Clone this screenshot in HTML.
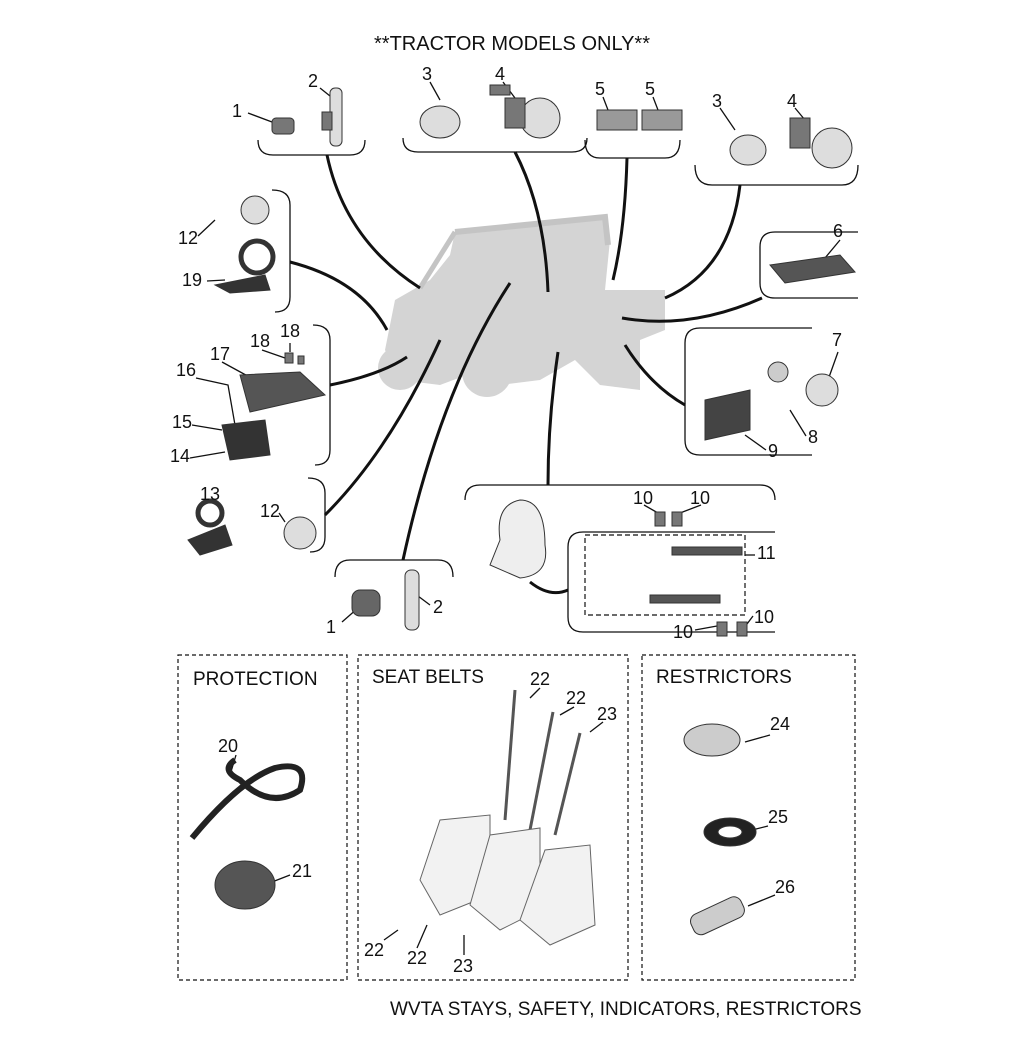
<!DOCTYPE html>
<html><head><meta charset="utf-8"><style>
html,body{margin:0;padding:0;background:#fff}
svg{display:block}
text{font-family:"Liberation Sans",sans-serif;fill:#111}
</style></head><body>
<svg width="1027" height="1040" viewBox="0 0 1027 1040" xmlns="http://www.w3.org/2000/svg">
<text x="512" y="50" font-size="20" text-anchor="middle">**TRACTOR MODELS ONLY**</text>

<!-- vehicle -->
<g fill="#d4d4d4">
<path d="M455 232 L605 217 L610 240 L605 290 L665 290 L665 330 L640 340 L640 390 L600 385 L575 360 L540 380 L500 385 L480 370 L440 385 L400 380 L385 350 L395 300 L430 280 L450 255 Z"/>
<circle cx="400" cy="368" r="22"/><circle cx="487" cy="372" r="25"/><circle cx="618" cy="365" r="22"/>
</g>
<path d="M455 232 L605 217 L608 245" fill="none" stroke="#c4c4c4" stroke-width="6"/>
<path d="M420 288 L455 232" stroke="#c4c4c4" stroke-width="5"/>

<g fill="none" stroke="#111" stroke-width="3">
<path d="M327 155 Q345 240 420 288"/>
<path d="M515 152 Q545 210 548 292"/>
<path d="M627 158 Q625 230 613 280"/>
<path d="M740 185 Q730 270 665 298"/>
<path d="M622 318 Q690 330 762 298"/>
<path d="M625 345 Q650 385 685 405"/>
<path d="M558 352 Q548 420 548 485"/>
<path d="M290 262 Q360 280 387 330"/>
<path d="M330 385 Q380 375 407 357"/>
<path d="M325 515 Q390 450 440 340"/>
<path d="M403 560 Q440 390 510 283"/>
<path d="M530 582 Q550 598 568 590"/>
</g>

<g fill="none" stroke="#111" stroke-width="1.3">
<path d="M258 140 Q258 155 273 155 L350 155 Q365 155 365 140"/>
<path d="M403 138 Q403 152 418 152 L572 152 Q587 152 587 138"/>
<path d="M585 140 Q585 158 600 158 L665 158 Q680 158 680 140"/>
<path d="M695 165 Q695 185 712 185 L842 185 Q858 185 858 165"/>
<path d="M858 232 L775 232 Q760 232 760 247 L760 283 Q760 298 775 298 L858 298"/>
<path d="M812 328 L700 328 Q685 328 685 343 L685 440 Q685 455 700 455 L812 455"/>
<path d="M272 190 Q290 190 290 205 L290 297 Q290 312 275 312"/>
<path d="M313 325 Q330 325 330 340 L330 450 Q330 465 315 465"/>
<path d="M308 478 Q325 478 325 493 L325 537 Q325 552 310 552"/>
<path d="M335 577 Q335 560 350 560 L438 560 Q453 560 453 577"/>
<path d="M465 500 Q465 485 480 485 L760 485 Q775 485 775 500"/>
<path d="M775 532 L583 532 Q568 532 568 547 L568 617 Q568 632 583 632 L775 632"/>
<!-- leader lines -->
<path d="M248 113 L272 122"/><path d="M320 88 L335 100"/>
<path d="M430 82 L440 100"/><path d="M503 82 L515 98"/>
<path d="M603 97 L608 110"/><path d="M653 97 L658 110"/>
<path d="M720 108 L735 130"/><path d="M795 108 L805 120"/>
<path d="M840 240 L825 258"/><path d="M838 352 L828 380"/>
<path d="M806 436 L790 410"/><path d="M766 450 L745 435"/>
<path d="M198 236 L215 220"/><path d="M207 281 L225 280"/>
<path d="M290 343 L290 352"/><path d="M262 350 L285 358"/><path d="M222 362 L255 380"/>
<path d="M196 378 L228 385 L235 425"/><path d="M192 425 L222 430"/><path d="M190 458 L225 452"/>
<path d="M212 502 L210 505"/><path d="M279 513 L285 522"/>
<path d="M342 622 L358 608"/><path d="M430 605 L418 596"/>
<path d="M644 505 L658 513"/><path d="M701 505 L680 513"/><path d="M755 555 L745 555"/>
<path d="M695 630 L717 626"/><path d="M753 616 L747 624"/>
<path d="M236 755 L230 775"/><path d="M290 875 L272 882"/>
<path d="M540 688 L530 698"/><path d="M574 707 L560 715"/><path d="M603 722 L590 732"/>
<path d="M384 940 L398 930"/><path d="M417 948 L427 925"/><path d="M464 955 L464 935"/>
<path d="M770 735 L745 742"/><path d="M768 826 L752 830"/><path d="M775 895 L748 906"/>
</g>
<rect x="585" y="535" width="160" height="80" fill="none" stroke="#111" stroke-width="1.2" stroke-dasharray="5,3"/>

<!-- parts (approx) -->
<g fill="#777" stroke="#333" stroke-width="1">
<rect x="272" y="118" width="22" height="16" rx="4"/>
<rect x="330" y="88" width="12" height="58" rx="5" fill="#ddd"/><rect x="322" y="112" width="10" height="18"/>
<ellipse cx="440" cy="122" rx="20" ry="16" fill="#ddd"/><rect x="490" y="85" width="20" height="10"/>
<circle cx="540" cy="118" r="20" fill="#ddd"/><rect x="505" y="98" width="20" height="30"/>
<rect x="597" y="110" width="40" height="20" fill="#999"/><rect x="642" y="110" width="40" height="20" fill="#999"/>
<ellipse cx="748" cy="150" rx="18" ry="15" fill="#ddd"/><circle cx="832" cy="148" r="20" fill="#ddd"/><rect x="790" y="118" width="20" height="30"/>
<path d="M770 265 L840 255 L855 272 L785 283 Z" fill="#555"/>
<circle cx="822" cy="390" r="16" fill="#ddd"/><circle cx="778" cy="372" r="10" fill="#ccc"/>
<path d="M705 400 L750 390 L750 430 L705 440 Z" fill="#444"/>
<circle cx="255" cy="210" r="14" fill="#ddd"/><circle cx="257" cy="257" r="16" fill="#fff" stroke-width="5"/><path d="M215 285 L265 275 L270 290 L230 293 Z" fill="#333"/>
<path d="M240 375 L300 372 L325 395 L250 412 Z" fill="#555"/>
<path d="M222 425 L265 420 L270 455 L230 460 Z" fill="#333"/>
<rect x="285" y="353" width="8" height="10"/><rect x="298" y="356" width="6" height="8"/>
<circle cx="210" cy="513" r="12" fill="#fff" stroke-width="5"/><path d="M188 540 L225 525 L232 545 L200 555 Z" fill="#333"/>
<circle cx="300" cy="533" r="16" fill="#ddd"/>
<rect x="352" y="590" width="28" height="26" rx="8" fill="#666"/>
<rect x="405" y="570" width="14" height="60" rx="6" fill="#ddd"/>
<path d="M500 540 Q495 505 520 500 Q545 500 545 545 Q550 575 520 578 L490 565 Z" fill="#eee"/>
<rect x="672" y="547" width="70" height="8" fill="#555"/><rect x="650" y="595" width="70" height="8" fill="#555"/>
<rect x="655" y="512" width="10" height="14"/><rect x="672" y="512" width="10" height="14"/>
<rect x="717" y="622" width="10" height="14"/><rect x="737" y="622" width="10" height="14"/>
</g>

<g font-size="18">
<text x="232" y="117">1</text><text x="308" y="87">2</text>
<text x="422" y="80">3</text><text x="495" y="80">4</text>
<text x="595" y="95">5</text><text x="645" y="95">5</text>
<text x="712" y="107">3</text><text x="787" y="107">4</text>
<text x="833" y="237">6</text><text x="832" y="346">7</text><text x="808" y="443">8</text><text x="768" y="457">9</text>
<text x="178" y="244">12</text><text x="182" y="286">19</text>
<text x="280" y="337">18</text><text x="250" y="347">18</text><text x="210" y="360">17</text>
<text x="176" y="376">16</text><text x="172" y="428">15</text><text x="170" y="462">14</text>
<text x="200" y="500">13</text><text x="260" y="517">12</text>
<text x="326" y="633">1</text><text x="433" y="613">2</text>
<text x="633" y="504">10</text><text x="690" y="504">10</text><text x="757" y="559">11</text>
<text x="673" y="638">10</text><text x="754" y="623">10</text>
</g>

<g fill="none" stroke="#111" stroke-width="1.2" stroke-dasharray="4,3">
<rect x="178" y="655" width="169" height="325"/>
<rect x="358" y="655" width="270" height="325"/>
<rect x="642" y="655" width="213" height="325"/>
</g>
<g font-size="19">
<text x="193" y="685">PROTECTION</text>
<text x="372" y="683">SEAT BELTS</text>
<text x="656" y="683">RESTRICTORS</text>
</g>

<g stroke="#333" fill="#777">
<path d="M192 838 Q240 780 275 768 Q310 760 300 790 Q270 810 240 780 Q220 770 235 760" fill="none" stroke="#222" stroke-width="6"/>
<ellipse cx="245" cy="885" rx="30" ry="24" fill="#555"/>
<g fill="none" stroke="#555" stroke-width="3">
<path d="M515 690 L505 820"/><path d="M553 712 L530 830"/><path d="M580 733 L555 835"/>
</g>
<g fill="#f2f2f2" stroke="#666">
<path d="M420 880 L440 820 L490 815 L490 895 L440 915 Z"/>
<path d="M470 905 L490 835 L540 828 L540 910 L500 930 Z"/>
<path d="M520 920 L545 850 L590 845 L595 925 L550 945 Z"/>
</g>
<ellipse cx="712" cy="740" rx="28" ry="16" fill="#ccc"/>
<ellipse cx="730" cy="832" rx="26" ry="14" fill="#222"/><ellipse cx="730" cy="832" rx="12" ry="6" fill="#fff"/>
<rect x="690" y="905" width="55" height="22" rx="8" fill="#ccc" transform="rotate(-25 717 916)"/>
</g>
<g font-size="18">
<text x="218" y="752">20</text><text x="292" y="877">21</text>
<text x="530" y="685">22</text><text x="566" y="704">22</text><text x="597" y="720">23</text>
<text x="364" y="956">22</text><text x="407" y="964">22</text><text x="453" y="972">23</text>
<text x="770" y="730">24</text><text x="768" y="823">25</text><text x="775" y="893">26</text>
</g>
<text x="390" y="1015" font-size="19">WVTA STAYS, SAFETY, INDICATORS, RESTRICTORS</text>
</svg>
</body></html>
